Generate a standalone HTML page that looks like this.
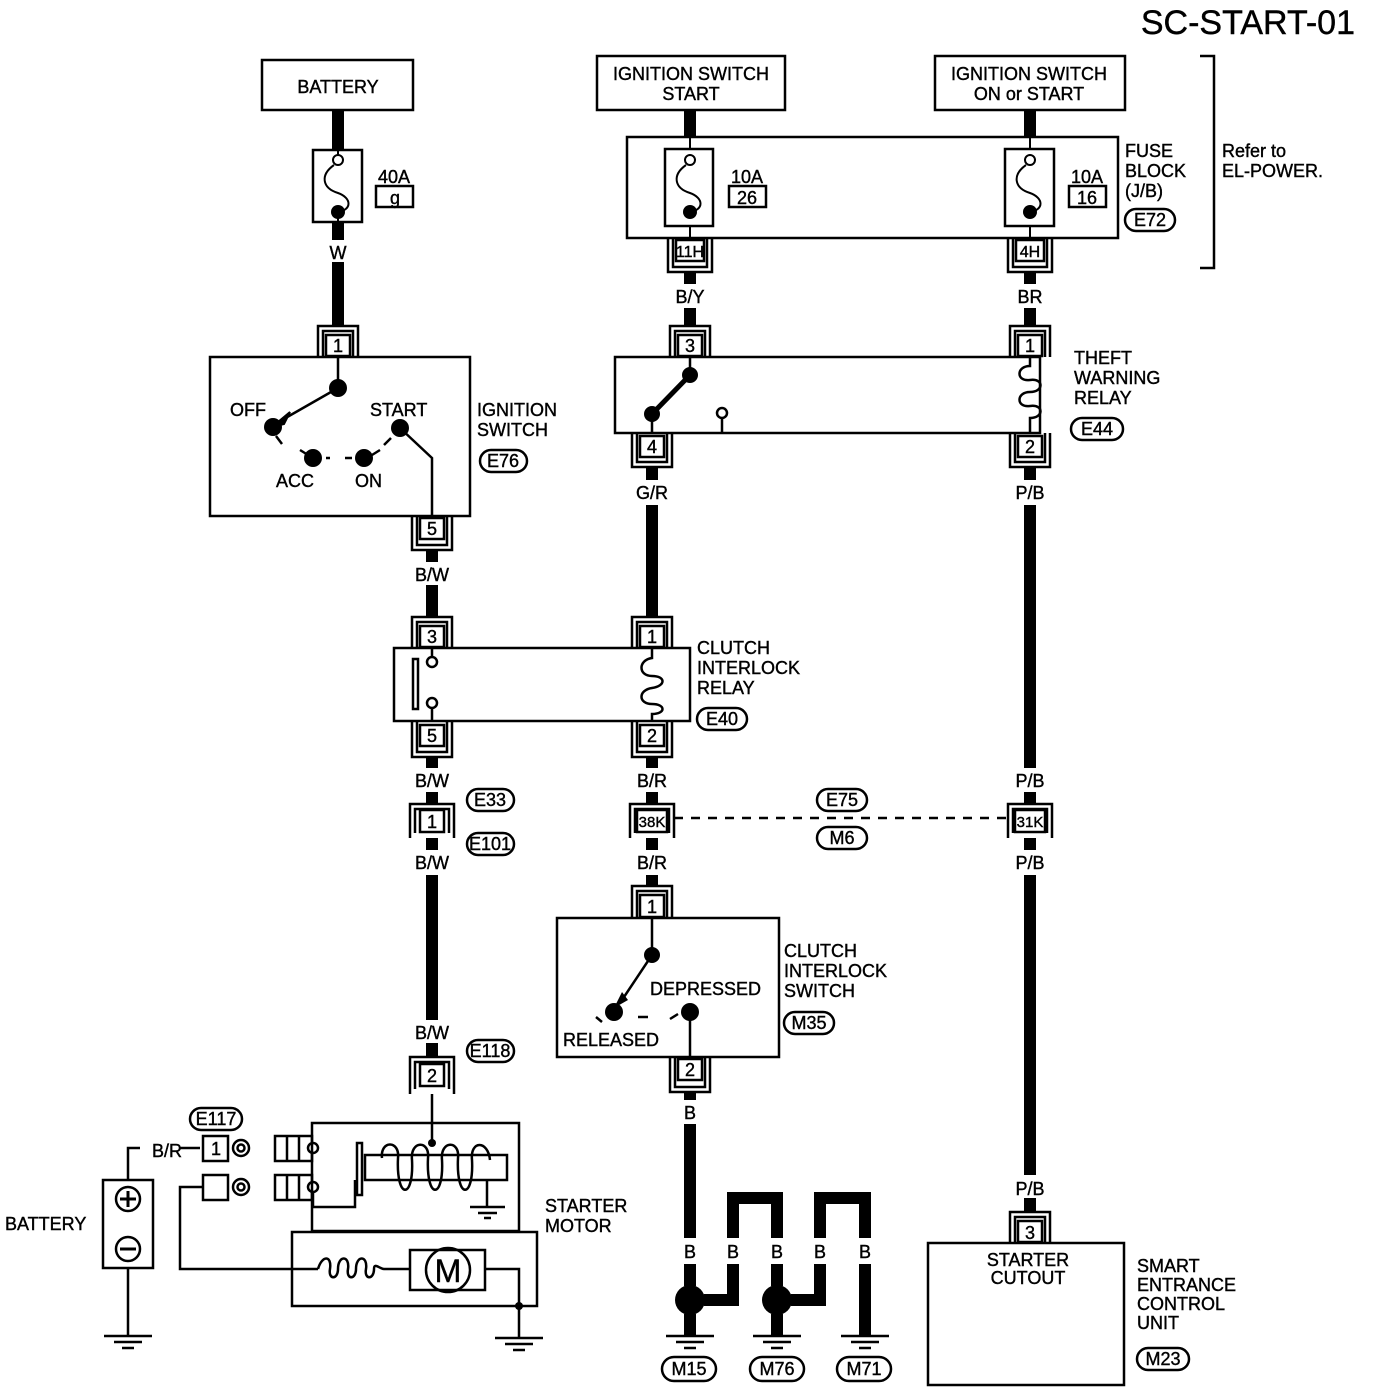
<!DOCTYPE html>
<html><head><meta charset="utf-8"><style>
body{margin:0;background:#fff}
svg{display:block}
text{font-family:"Liberation Sans",sans-serif;font-size:18px;fill:#000;stroke:#000;stroke-width:0.4}
</style></head><body>
<svg width="1376" height="1390" viewBox="0 0 1376 1390" xmlns="http://www.w3.org/2000/svg">
<text x="1355" y="34" text-anchor="end" style="font-size:34px">SC-START-01</text>

<g fill="none" stroke="#000" stroke-width="2.5">
<rect x="262" y="60" width="151" height="50"/>
<rect x="597" y="56" width="188" height="54"/>
<rect x="935" y="56" width="190" height="54"/>
<rect x="313" y="150" width="49" height="72"/>
<rect x="376" y="186" width="37" height="21"/>
<rect x="627" y="137" width="491" height="101"/>
<rect x="665" y="149" width="48" height="77"/>
<rect x="1005" y="149" width="49" height="77"/>
<rect x="729" y="186" width="37" height="21"/>
<rect x="1069" y="186" width="37" height="21"/>
<path d="M1200 56 H1214 V268 H1200"/>
<rect x="210" y="357" width="260" height="159"/>
<rect x="615" y="357" width="425" height="76"/>
<rect x="394" y="648" width="296" height="73"/>
<rect x="557" y="918" width="222" height="139"/>
<rect x="928" y="1243" width="196" height="142"/>
<rect x="312" y="1123" width="207" height="108"/>
<rect x="292" y="1232" width="245" height="74"/>
<rect x="103" y="1180" width="50" height="88"/>
</g>

<g stroke="#000" stroke-width="12" fill="none">
<path d="M338 110 V150 M338 222 V240 M338 262 V326"/>
<path d="M690 110 V137 M1030 110 V137"/>
<path d="M690 272 V284 M690 308 V326 M1030 272 V284 M1030 308 V326"/>
<path d="M652 467 V480 M652 505 V617 M1030 467 V480 M1030 505 V768"/>
<path d="M432 550 V562 M432 585 V617"/>
<path d="M432 757 V768 M432 792 V804 M432 838 V850 M432 875 V1020 M432 1043 V1057"/>
<path d="M652 757 V768 M652 792 V804 M652 838 V850 M652 875 V886"/>
<path d="M1030 792 V804 M1030 838 V850 M1030 875 V1175 M1030 1198 V1212"/>
<path d="M690 1092 V1100 M690 1124 V1238"/>
<path d="M690 1264 V1286 M690 1314 V1336"/>
<path d="M733 1238 V1198 H777 V1238 M733 1264 V1300 H704 M777 1264 V1286 M777 1314 V1336"/>
<path d="M820 1238 V1198 H865 V1238 M820 1264 V1300 H791 M865 1264 V1336"/>
</g>
<g fill="#000"><circle cx="690" cy="1300" r="15"/><circle cx="777" cy="1300" r="15"/></g>

<g fill="none" stroke="#000" stroke-width="2.5">
<path d="M318 357 V326 H358 V357 M323 357 V331 H353 V357"/><rect x="326" y="335" width="24" height="21" fill="#fff"/>
<path d="M670 357 V326 H710 V357 M675 357 V331 H705 V357"/><rect x="678" y="335" width="24" height="21" fill="#fff"/>
<path d="M1010 357 V326 H1050 V357 M1015 357 V331 H1045 V357"/><rect x="1018" y="335" width="24" height="21" fill="#fff"/>
<path d="M412 648 V617 H452 V648 M417 648 V622 H447 V648"/><rect x="420" y="626" width="24" height="21" fill="#fff"/>
<path d="M632 648 V617 H672 V648 M637 648 V622 H667 V648"/><rect x="640" y="626" width="24" height="21" fill="#fff"/>
<path d="M632 918 V886 H672 V918 M637 918 V891 H667 V918"/><rect x="640" y="895" width="24" height="22" fill="#fff"/>
<path d="M1010 1243 V1212 H1050 V1243 M1015 1243 V1217 H1045 V1243"/><rect x="1018" y="1221" width="24" height="21" fill="#fff"/>
<path d="M668 238 V272 H712 V238 M673 238 V267 H707 V238"/><rect x="676" y="240" width="28" height="21" fill="#fff"/>
<path d="M1008 238 V272 H1052 V238 M1013 238 V267 H1047 V238"/><rect x="1016" y="240" width="28" height="21" fill="#fff"/>
<path d="M412 516 V550 H452 V516 M417 516 V545 H447 V516"/><rect x="420" y="518" width="24" height="21" fill="#fff"/>
<path d="M632 433 V467 H672 V433 M637 433 V462 H667 V433"/><rect x="640" y="436" width="24" height="21" fill="#fff"/>
<path d="M1010 433 V467 H1050 V433 M1015 433 V462 H1045 V433"/><rect x="1018" y="436" width="24" height="21" fill="#fff"/>
<path d="M412 721 V757 H452 V721 M417 721 V752 H447 V721"/><rect x="420" y="725" width="24" height="21" fill="#fff"/>
<path d="M632 721 V757 H672 V721 M637 721 V752 H667 V721"/><rect x="640" y="725" width="24" height="21" fill="#fff"/>
<path d="M670 1057 V1092 H710 V1057 M675 1057 V1087 H705 V1057"/><rect x="678" y="1059" width="24" height="21" fill="#fff"/>
<path d="M410 838 V804 H454 V838 M415 833 V809 H449 V833"/><rect x="420" y="810" width="24" height="22" fill="#fff"/>
<path d="M630 838 V804 H674 V838 M635 833 V809 H669 V833"/><rect x="637" y="810" width="30" height="22" fill="#fff"/>
<path d="M1008 838 V804 H1052 V838 M1013 833 V809 H1047 V833"/><rect x="1015" y="810" width="30" height="22" fill="#fff"/>
<path d="M410 1094 V1057 H454 V1094 M415 1089 V1062 H449 V1089"/><rect x="420" y="1064" width="24" height="22" fill="#fff"/>
<path d="M674 818 H1008" stroke-dasharray="9 8"/>
</g>

<g fill="none" stroke="#000" stroke-width="2">
<path d="M338 150 V156 M338 216 V222"/><circle cx="338" cy="160" r="5" fill="#fff"/>
<path d="M334 165 C320 175 322 188 338 193 C352 198 352 210 338 212"/>
<path d="M690 137 V149 M690 226 V238"/><circle cx="690" cy="160" r="5" fill="#fff"/>
<path d="M686 165 C672 175 674 188 690 193 C704 198 704 210 690 212"/>
<path d="M1030 137 V149 M1030 226 V238"/><circle cx="1030" cy="160" r="5" fill="#fff"/>
<path d="M1026 165 C1012 175 1014 188 1030 193 C1044 198 1044 210 1030 212"/>
</g>
<g fill="#000"><circle cx="338" cy="212" r="7"/><circle cx="690" cy="212" r="7"/><circle cx="1030" cy="212" r="7"/></g>

<g fill="none" stroke="#000" stroke-width="2.5">
<path d="M338 357 V388 M338 388 L282 420"/>
<path d="M400 428 L432 458 V516"/>
<path d="M326 458 H330 M345 458 H352"/>
<path d="M300 450 L308 455 M380 450 L372 455 M391 438 L384 445 M276 436 L282 444"/>
</g>
<path d="M272 427 L290 412 L284 424 Z" fill="#000" stroke="#000" stroke-width="2"/>
<g fill="#000"><circle cx="338" cy="388" r="9"/><circle cx="273" cy="427" r="9"/><circle cx="400" cy="428" r="9"/><circle cx="313" cy="458" r="9"/><circle cx="364" cy="458" r="9"/></g>

<g fill="none" stroke="#000" stroke-width="2.5">
<path d="M690 357 V375 M652 414 V433"/>
<path d="M652 414 L690 375" stroke-width="5"/>
<path d="M722 419 V433"/><circle cx="722" cy="413" r="5" fill="#fff"/>
<path d="M1030 357 V366 C1016 366 1016 382 1030 380 C1044 378 1044 392 1030 392 C1016 392 1016 408 1030 406 C1044 404 1044 418 1030 418 V433"/>
</g>
<g fill="#000"><circle cx="690" cy="375" r="8"/><circle cx="652" cy="414" r="8"/></g>

<g fill="none" stroke="#000" stroke-width="2.5">
<path d="M432 648 V656 M432 709 V721"/>
<circle cx="432" cy="662" r="5" fill="#fff"/><circle cx="432" cy="703" r="5" fill="#fff"/>
<rect x="413" y="659" width="5" height="50"/>
<path d="M652 648 V658 C638 660 638 676 652 676 C666 676 666 686 652 688 C638 690 638 704 652 704 C666 704 666 714 652 714 V721"/>
</g>

<g fill="none" stroke="#000" stroke-width="2.5">
<path d="M652 918 V955 L622 1000"/>
<path d="M690 1012 V1057"/>
<path d="M638 1017 H648 M670 1019 L678 1014 M596 1017 L602 1022"/>
</g>
<path d="M614 1008 L622 992 L628 1000 Z" fill="#000"/>
<g fill="#000"><circle cx="652" cy="955" r="8"/><circle cx="614" cy="1012" r="9"/><circle cx="690" cy="1012" r="9"/></g>

<g fill="none" stroke="#000" stroke-width="2.5">
<path d="M666 1336 H714 M676 1342 H704 M684 1348 H696"/>
<path d="M753 1336 H801 M763 1342 H791 M771 1348 H783"/>
<path d="M841 1336 H889 M851 1342 H879 M859 1348 H871"/>
<path d="M128 1268 V1336 M104 1336 H152 M114 1342 H142 M122 1348 H134"/>
<path d="M519 1306 V1338 M495 1338 H543 M505 1344 H533 M513 1350 H525"/>
<path d="M487 1180 V1207 M470 1207 H505 M478 1213 H497 M484 1218 H491"/>
</g>

<g fill="none" stroke="#000" stroke-width="2.5">
<path d="M432 1094 V1143"/>
<rect x="365" y="1155" width="142" height="25"/>
<rect x="357" y="1143" width="5" height="52"/>
<path d="M312 1148 H308 M319 1148 H308 M319 1186 H308"/>
<circle cx="313" cy="1148" r="5" fill="#fff"/><circle cx="313" cy="1187" r="5" fill="#fff"/>
<path d="M313 1192 V1207 H355 V1180"/>
<path d="M382 1158 C380 1140 400 1140 398 1158 C396 1200 414 1200 412 1160 C410 1140 430 1140 428 1158 C426 1200 444 1200 442 1160 C440 1140 460 1140 458 1158 C456 1200 474 1200 472 1160 C470 1140 488 1140 490 1160"/>
<rect x="275" y="1136" width="37" height="25"/><path d="M287 1136 V1161 M299 1136 V1161"/>
<rect x="275" y="1175" width="37" height="25"/><path d="M287 1175 V1200 M299 1175 V1200"/>
<rect x="203" y="1136" width="25" height="25"/><circle cx="241" cy="1148" r="8"/><circle cx="241" cy="1148" r="3.5"/>
<rect x="203" y="1175" width="25" height="25"/><circle cx="241" cy="1187" r="8"/><circle cx="241" cy="1187" r="3.5"/>
<path d="M128 1180 V1148 H140 M180 1148 H200"/>
<path d="M203 1187 H180 V1269 H318"/>
<path d="M318 1269 C322 1255 332 1255 330 1269 C328 1280 338 1280 338 1269 C338 1255 350 1255 348 1269 C346 1280 356 1280 356 1269 C356 1255 368 1255 366 1269 C364 1280 374 1280 374 1269 C374 1262 380 1269 384 1269 H410"/>
<rect x="410" y="1250" width="75" height="40"/>
<circle cx="448" cy="1270" r="22"/>
<path d="M485 1269 H519 V1306"/>
<circle cx="128" cy="1199" r="12"/><circle cx="128" cy="1249" r="12"/>
<path d="M120 1199 H136 M128 1191 V1207 M120 1249 H136" stroke-width="3"/>
</g>
<g fill="#000"><circle cx="432" cy="1143" r="4"/><circle cx="519" cy="1306" r="4"/></g>
<text x="448" y="1282" text-anchor="middle" style="font-size:32px">M</text>

<g fill="none" stroke="#000" stroke-width="2.5">
<rect x="480" y="450" width="47" height="22" rx="11"/>
<rect x="1125" y="209" width="50" height="22" rx="11"/>
<rect x="1071" y="418" width="52" height="22" rx="11"/>
<rect x="697" y="708" width="50" height="22" rx="11"/>
<rect x="467" y="789" width="47" height="22" rx="11"/>
<rect x="467" y="833" width="47" height="22" rx="11"/>
<rect x="467" y="1040" width="47" height="22" rx="11"/>
<rect x="817" y="789" width="50" height="22" rx="11"/>
<rect x="817" y="827" width="50" height="22" rx="11"/>
<rect x="784" y="1012" width="50" height="22" rx="11"/>
<rect x="190" y="1108" width="52" height="22" rx="11"/>
<rect x="662" y="1357" width="54" height="24" rx="12"/>
<rect x="750" y="1357" width="54" height="24" rx="12"/>
<rect x="837" y="1357" width="54" height="24" rx="12"/>
<rect x="1137" y="1348" width="52" height="22" rx="11"/>
</g>

<g style="font-size:18px">
<text x="338" y="93" text-anchor="middle">BATTERY</text>
<text x="691" y="80" text-anchor="middle">IGNITION SWITCH</text>
<text x="691" y="100" text-anchor="middle">START</text>
<text x="1029" y="80" text-anchor="middle">IGNITION SWITCH</text>
<text x="1029" y="100" text-anchor="middle">ON or START</text>
<text x="378" y="183">40A</text>
<text x="395" y="204" text-anchor="middle">g</text>
<text x="731" y="183">10A</text><text x="747" y="204" text-anchor="middle">26</text>
<text x="1071" y="183">10A</text><text x="1087" y="204" text-anchor="middle">16</text>
<text x="1125" y="157">FUSE</text><text x="1125" y="177">BLOCK</text><text x="1125" y="197">(J/B)</text>
<text x="1150" y="226" text-anchor="middle">E72</text>
<text x="1222" y="157">Refer to</text><text x="1222" y="177">EL-POWER.</text>
<text x="338" y="259" text-anchor="middle">W</text>
<text x="690" y="257" text-anchor="middle" style="font-size:16px">11H</text>
<text x="1030" y="257" text-anchor="middle" style="font-size:16px">4H</text>
<text x="690" y="303" text-anchor="middle">B/Y</text>
<text x="1030" y="303" text-anchor="middle">BR</text>
<text x="338" y="352" text-anchor="middle">1</text>
<text x="690" y="352" text-anchor="middle">3</text>
<text x="1030" y="352" text-anchor="middle">1</text>
<text x="230" y="416">OFF</text>
<text x="370" y="416">START</text>
<text x="276" y="487">ACC</text>
<text x="355" y="487">ON</text>
<text x="477" y="416">IGNITION</text><text x="477" y="436">SWITCH</text>
<text x="503" y="467" text-anchor="middle">E76</text>
<text x="1074" y="364">THEFT</text><text x="1074" y="384">WARNING</text><text x="1074" y="404">RELAY</text>
<text x="1097" y="435" text-anchor="middle">E44</text>
<text x="652" y="453" text-anchor="middle">4</text>
<text x="1030" y="453" text-anchor="middle">2</text>
<text x="652" y="499" text-anchor="middle">G/R</text>
<text x="1030" y="499" text-anchor="middle">P/B</text>
<text x="432" y="535" text-anchor="middle">5</text>
<text x="432" y="581" text-anchor="middle">B/W</text>
<text x="432" y="643" text-anchor="middle">3</text>
<text x="652" y="643" text-anchor="middle">1</text>
<text x="697" y="654">CLUTCH</text><text x="697" y="674">INTERLOCK</text><text x="697" y="694">RELAY</text>
<text x="722" y="725" text-anchor="middle">E40</text>
<text x="432" y="742" text-anchor="middle">5</text>
<text x="652" y="742" text-anchor="middle">2</text>
<text x="432" y="787" text-anchor="middle">B/W</text>
<text x="652" y="787" text-anchor="middle">B/R</text>
<text x="1030" y="787" text-anchor="middle">P/B</text>
<text x="490" y="806" text-anchor="middle">E33</text>
<text x="490" y="850" text-anchor="middle">E101</text>
<text x="432" y="828" text-anchor="middle">1</text>
<text x="652" y="827" text-anchor="middle" style="font-size:15px">38K</text>
<text x="1030" y="827" text-anchor="middle" style="font-size:15px">31K</text>
<text x="842" y="806" text-anchor="middle">E75</text>
<text x="842" y="844" text-anchor="middle">M6</text>
<text x="432" y="869" text-anchor="middle">B/W</text>
<text x="652" y="869" text-anchor="middle">B/R</text>
<text x="1030" y="869" text-anchor="middle">P/B</text>
<text x="652" y="913" text-anchor="middle">1</text>
<text x="784" y="957">CLUTCH</text><text x="784" y="977">INTERLOCK</text><text x="784" y="997">SWITCH</text>
<text x="650" y="995">DEPRESSED</text>
<text x="563" y="1046">RELEASED</text>
<text x="809" y="1029" text-anchor="middle">M35</text>
<text x="432" y="1039" text-anchor="middle">B/W</text>
<text x="490" y="1057" text-anchor="middle">E118</text>
<text x="432" y="1082" text-anchor="middle">2</text>
<text x="690" y="1076" text-anchor="middle">2</text>
<text x="690" y="1119" text-anchor="middle">B</text>
<text x="216" y="1125" text-anchor="middle">E117</text>
<text x="152" y="1157">B/R</text>
<text x="216" y="1155" text-anchor="middle">1</text>
<text x="5" y="1230">BATTERY</text>
<text x="545" y="1212">STARTER</text><text x="545" y="1232">MOTOR</text>
<text x="1030" y="1195" text-anchor="middle">P/B</text>
<text x="1030" y="1239" text-anchor="middle">3</text>
<text x="1028" y="1266" text-anchor="middle">STARTER</text>
<text x="1028" y="1284" text-anchor="middle">CUTOUT</text>
<text x="1137" y="1272">SMART</text><text x="1137" y="1291">ENTRANCE</text><text x="1137" y="1310">CONTROL</text><text x="1137" y="1329">UNIT</text>
<text x="1163" y="1365" text-anchor="middle">M23</text>
<text x="690" y="1258" text-anchor="middle">B</text>
<text x="733" y="1258" text-anchor="middle">B</text>
<text x="777" y="1258" text-anchor="middle">B</text>
<text x="820" y="1258" text-anchor="middle">B</text>
<text x="865" y="1258" text-anchor="middle">B</text>
<text x="689" y="1375" text-anchor="middle">M15</text>
<text x="777" y="1375" text-anchor="middle">M76</text>
<text x="864" y="1375" text-anchor="middle">M71</text>
</g>
</svg>
</body></html>
